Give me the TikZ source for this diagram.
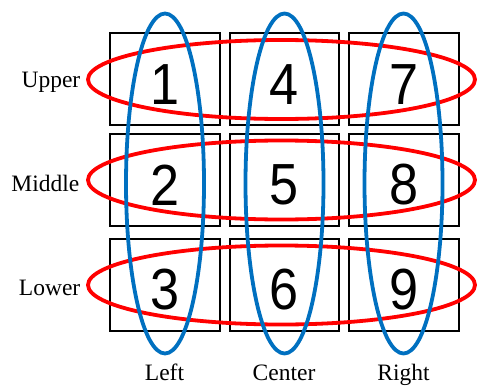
\documentclass[tikz,border=0pt]{standalone}
\usepackage{fontspec}
\setmainfont{Liberation Serif}
\newfontfamily\digitfont{Liberation Sans}
\definecolor{ringred}{HTML}{FF0000}
\definecolor{ringblue}{HTML}{0070C0}
\tikzset{
  cell/.style={draw=black, line width=2pt, minimum width=109.5pt, minimum height=92pt, inner sep=0pt},
  digit/.style={font=\digitfont\fontsize{58}{60}\selectfont, inner sep=0pt, xscale=0.9},
  axislabel/.style={font=\fontsize{23.5}{26}\selectfont, inner sep=0pt},
  rowring/.style={draw=ringred, line width=3.8pt},
  colring/.style={draw=ringblue, line width=3.8pt},
}
\begin{document}
\begin{tikzpicture}[x=1pt, y=-1pt]
\useasboundingbox (0,0) rectangle (478,385);

% grid of cells
\foreach \c/\cx in {1/164.75, 2/284.25, 3/404} {
  \foreach \r/\ry in {1/78.75, 2/179.5, 3/284.5} {
    \node[cell] (cell\c\r) at (\cx,\ry) {};
  }
}

% cell numbers
\foreach \c in {1,2,3} {
  \foreach \r in {1,2,3} {
    \pgfmathtruncatemacro{\n}{(\c-1)*3+\r}
    \node[digit] (num\c\r) at ([yshift=-5.5pt]cell\c\r.center) {\n};
  }
}

% row rings (red)
\foreach \r/\ry in {1/79.5, 2/180, 3/285} {
  \draw[rowring] (281.5,\ry) ellipse [x radius=193.5, y radius=39.5];
}

% column rings (blue)
\foreach \c/\cx in {1/165, 2/284.5, 3/403.5} {
  \draw[colring] (\cx,183.5) ellipse [x radius=39, y radius=170];
}

% row labels
\node[axislabel, anchor=base east] (upper) at (80.5,87.7) {Upper};
\node[axislabel, anchor=base east] (middle) at (79.5,191.7) {Middle};
\node[axislabel, anchor=base east] (lower) at (80.5,295) {Lower};

% column labels
\node[axislabel, anchor=base] (left) at (164.5,380) {Left};
\node[axislabel, anchor=base] (center) at (284,380) {Center};
\node[axislabel, anchor=base] (right) at (403.5,380) {Right};
\end{tikzpicture}
\end{document}
